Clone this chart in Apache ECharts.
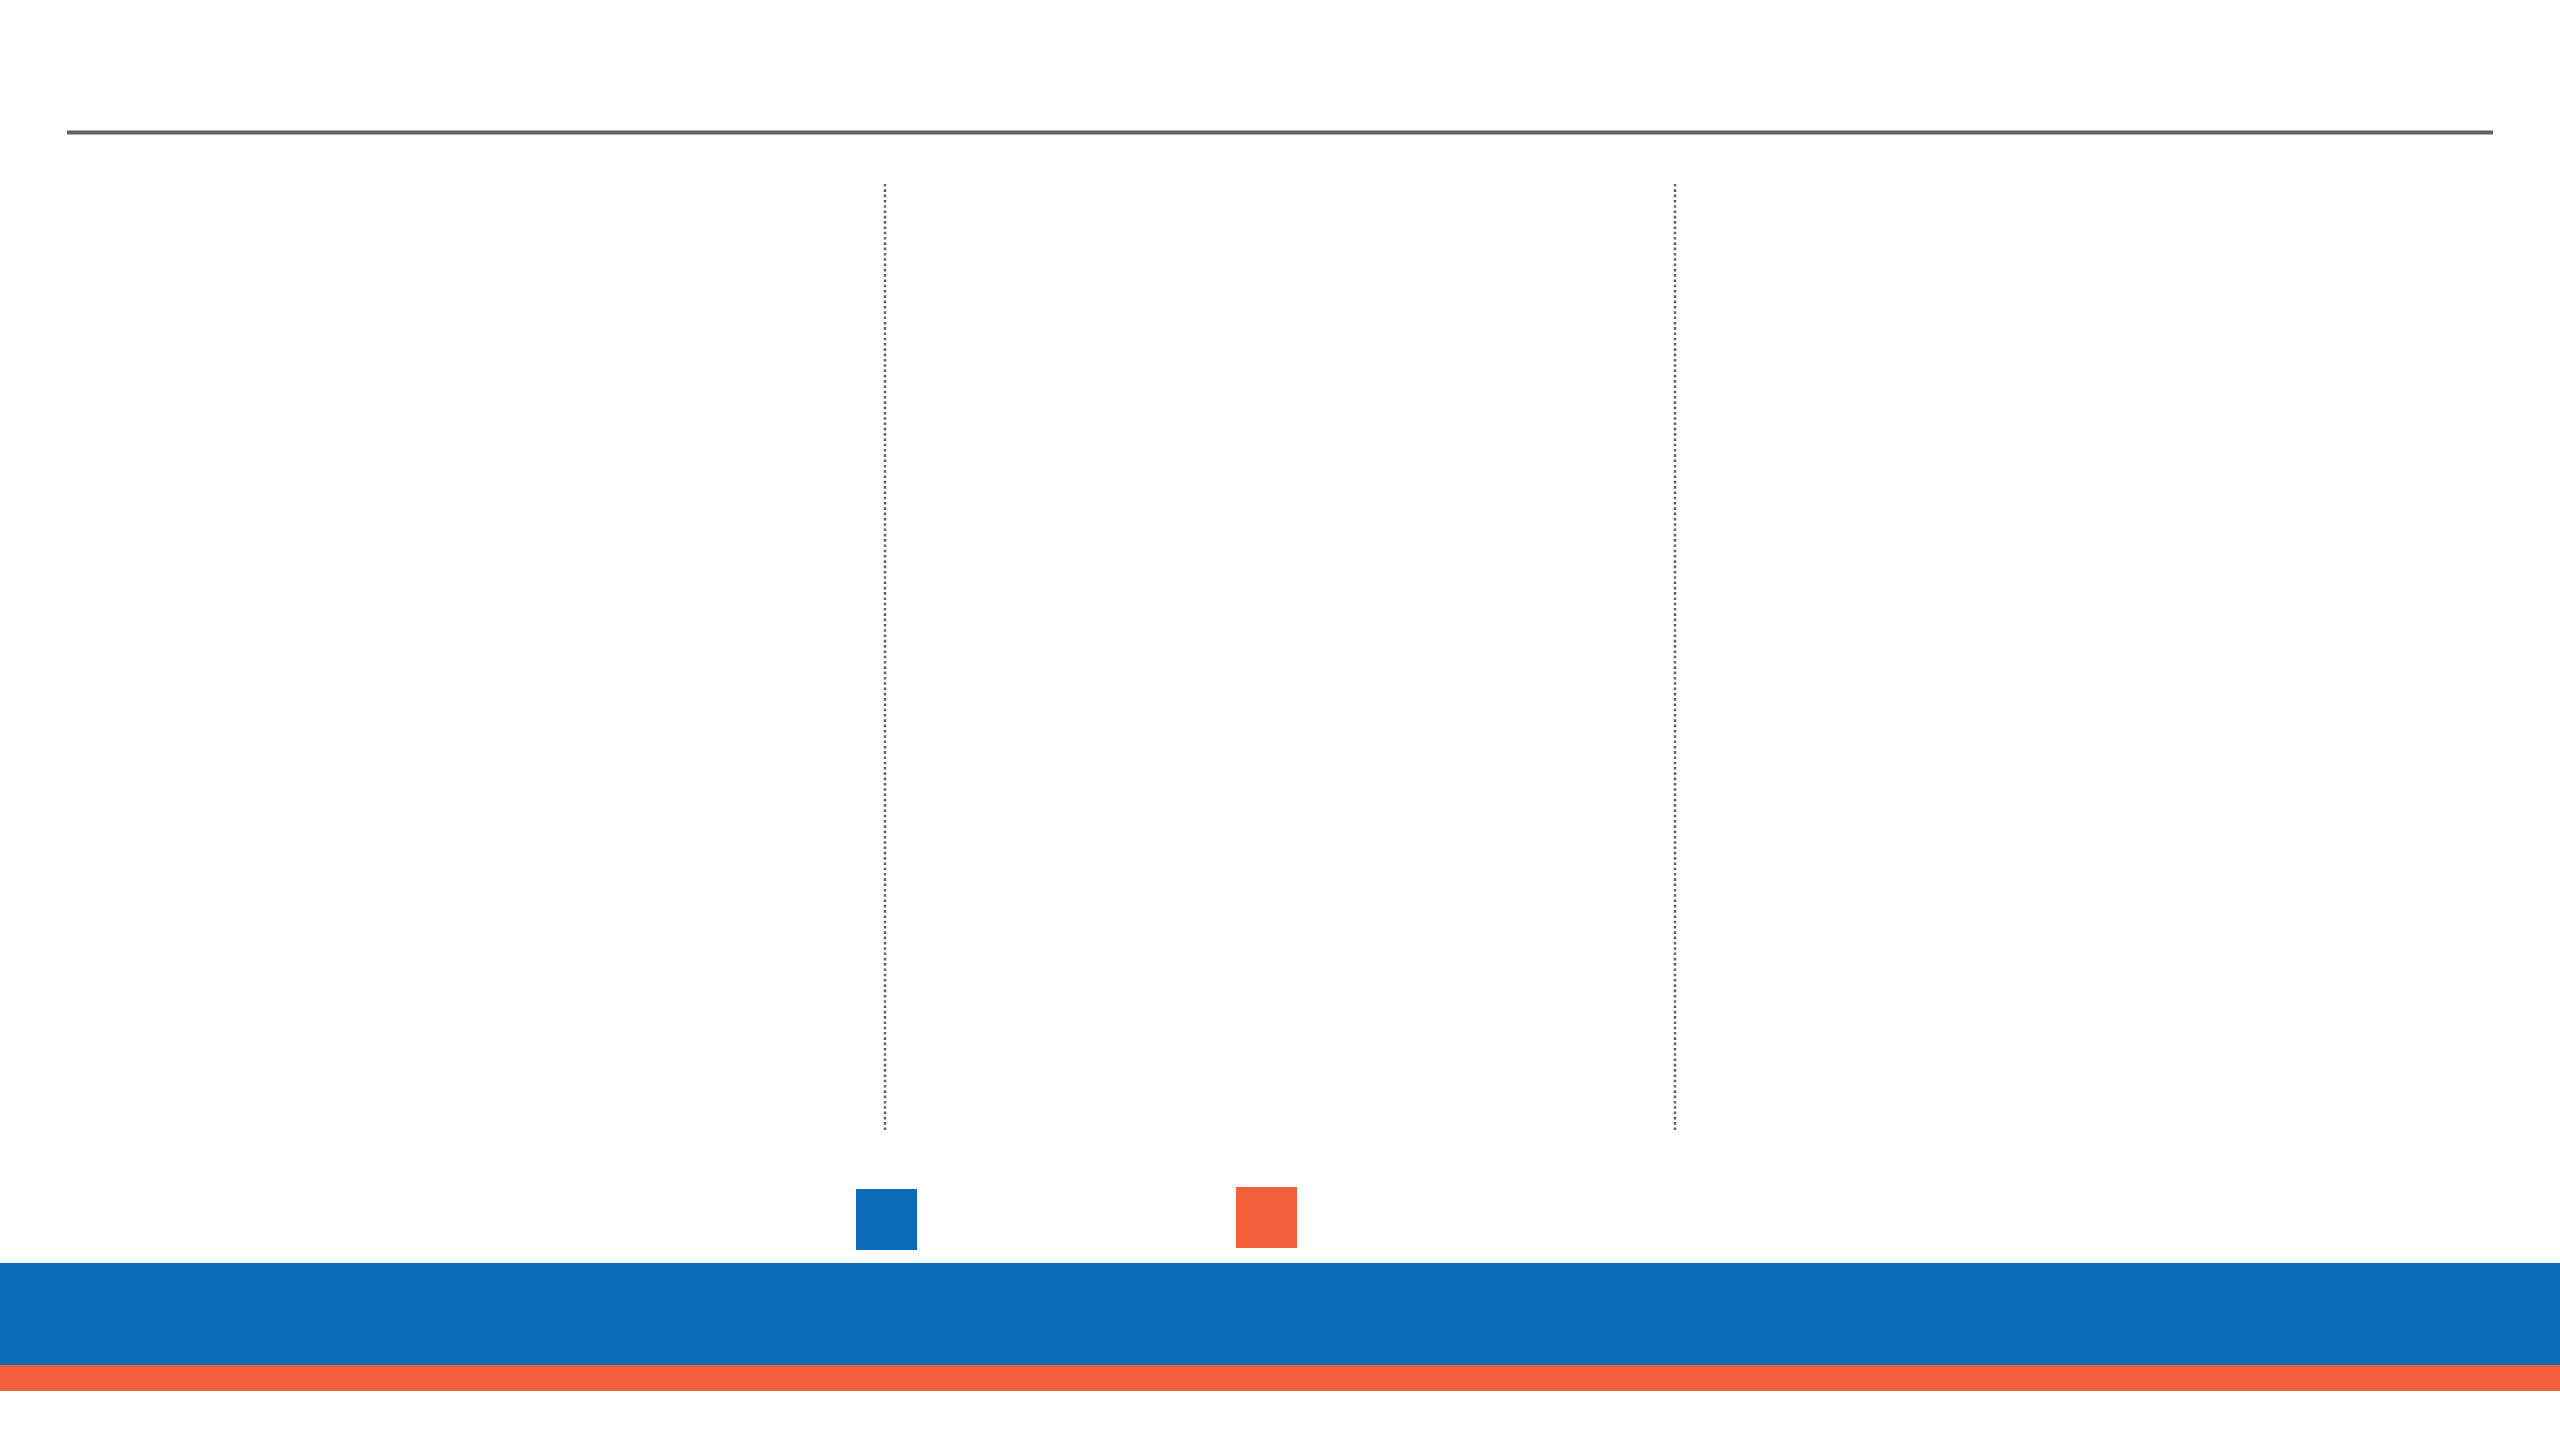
<!DOCTYPE html>
<html>
<head>
<meta charset="utf-8">
<script src="https://cdn.jsdelivr.net/npm/echarts@6/dist/echarts.min.js"></script>
<style>
html,body{margin:0;padding:0;background:#ffffff;}
#chart{width:2560px;height:1440px;}
</style>
</head>
<body>
<div id="chart"></div>
<script>
// Data (the reference shows no readable values, labels or bars)
var seriesNames = ['Series A', 'Series B'];
var seriesColors = ['#0d6cb8', '#f2603a'];
var categories = [];
var seriesAValues = [];
var seriesBValues = [];

var chart = echarts.init(document.getElementById('chart'), null, {renderer: 'canvas'});

var grids = [
  {left: 67, top: 184, width: 818, height: 945},
  {left: 885, top: 184, width: 790, height: 945},
  {left: 1675, top: 184, width: 818, height: 945}
];

var xAxes = grids.map(function (g, i) {
  return {type: 'category', gridIndex: i, data: categories, show: false};
});
var yAxes = grids.map(function (g, i) {
  return {type: 'value', gridIndex: i, show: false, splitLine: {show: false}};
});

var option = {
  backgroundColor: '#ffffff',
  animation: false,
  grid: grids,
  xAxis: xAxes,
  yAxis: yAxes,
  legend: [
    {
      data: [seriesNames[0]], left: 856, top: 1189, orient: 'horizontal',
      icon: 'rect', itemWidth: 61, itemHeight: 61, padding: 0,
      formatter: function () { return ''; }, selectedMode: false
    },
    {
      data: [seriesNames[1]], left: 1236, top: 1187, orient: 'horizontal',
      icon: 'rect', itemWidth: 61, itemHeight: 61, padding: 0,
      formatter: function () { return ''; }, selectedMode: false
    }
  ],
  series: [
    {name: seriesNames[0], type: 'bar', xAxisIndex: 0, yAxisIndex: 0, data: seriesAValues, itemStyle: {color: seriesColors[0]}},
    {name: seriesNames[1], type: 'bar', xAxisIndex: 0, yAxisIndex: 0, data: seriesBValues, itemStyle: {color: seriesColors[1]}}
  ],
  graphic: [
    {type: 'line', shape: {x1: 67, y1: 132.5, x2: 2493, y2: 132.5}, style: {stroke: '#5b636b', lineWidth: 4}, silent: true},
    {type: 'line', shape: {x1: 885, y1: 184, x2: 885, y2: 1130}, style: {stroke: '#5f6368', lineWidth: 2.5, lineDash: [2.6, 2.7]}, silent: true},
    {type: 'line', shape: {x1: 1675, y1: 184, x2: 1675, y2: 1130}, style: {stroke: '#5f6368', lineWidth: 2.5, lineDash: [2.6, 2.7]}, silent: true},
    {type: 'rect', shape: {x: 0, y: 1263, width: 2560, height: 102}, style: {fill: '#0d6cb8'}, silent: true},
    {type: 'rect', shape: {x: 0, y: 1365, width: 2560, height: 26}, style: {fill: '#f2603a'}, silent: true}
  ]
};

chart.setOption(option);
</script>
</body>
</html>
